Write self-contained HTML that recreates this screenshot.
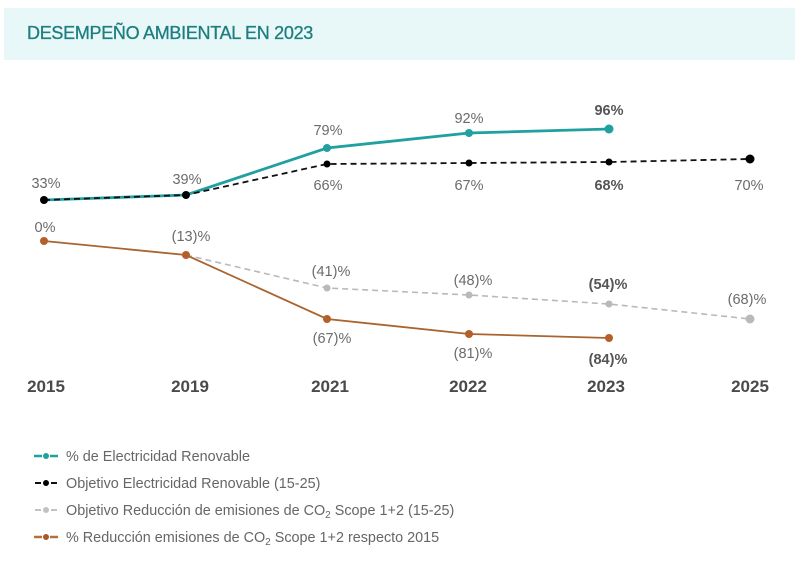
<!DOCTYPE html>
<html><head><meta charset="utf-8">
<style>
html,body{margin:0;padding:0;background:#fff;}
body{width:800px;height:559px;overflow:hidden;font-family:"Liberation Sans",sans-serif;}
</style></head>
<body>
<svg width="800" height="559" viewBox="0 0 800 559" xmlns="http://www.w3.org/2000/svg" font-family="Liberation Sans, sans-serif">
<rect x="4" y="8" width="791" height="52" fill="#e8f7f8"/>
<text x="27" y="39" font-size="18" fill="#1d7e7f" letter-spacing="-0.3" stroke="#1d7e7f" stroke-width="0.3">DESEMPEÑO AMBIENTAL EN 2023</text>

<!-- gray dashed -->
<polyline points="186,255 327,288 469,295 609,304 750,319" fill="none" stroke="#b9b9b9" stroke-width="1.6" stroke-dasharray="6,4"/>
<g fill="#b9b9b9"><circle cx="327" cy="288" r="3.5"/><circle cx="469" cy="295" r="3.5"/><circle cx="609" cy="304" r="3.5"/><circle cx="750" cy="319" r="4.5"/></g>

<!-- orange -->
<polyline points="44,241 186,255 327,319 469,334 609,338" fill="none" stroke="#a9642f" stroke-width="1.8"/>
<g fill="#b5602a"><circle cx="44" cy="241" r="4"/><circle cx="186" cy="255" r="4"/><circle cx="327" cy="319" r="4"/><circle cx="469" cy="334" r="4"/><circle cx="609" cy="338" r="4"/></g>

<!-- teal -->
<polyline points="44,200 186,195 327,148 469,133 609,129" fill="none" stroke="#20a0a0" stroke-width="2.8"/>
<g fill="#20a0a0"><circle cx="327" cy="148" r="4"/><circle cx="469" cy="133" r="4"/><circle cx="609" cy="129" r="4.5"/></g>

<!-- black dashed -->
<polyline points="44,200 186,195 327,164 469,163 609,162 750,159" fill="none" stroke="#111" stroke-width="1.8" stroke-dasharray="6,4"/>
<g fill="#000"><circle cx="44" cy="200" r="4"/><circle cx="186" cy="195" r="4"/><circle cx="327" cy="164" r="3.5"/><circle cx="469" cy="163" r="3.5"/><circle cx="609" cy="162" r="3.5"/><circle cx="750" cy="159" r="4.5"/></g>

<g font-size="14.5" fill="#6b6b6b" text-anchor="middle">
<text x="46" y="188">33%</text>
<text x="187" y="184">39%</text>
<text x="328" y="135">79%</text>
<text x="469" y="123">92%</text>
<text x="609" y="115" font-weight="bold" fill="#555">96%</text>
<text x="328" y="190">66%</text>
<text x="469" y="190">67%</text>
<text x="609" y="190" font-weight="bold" fill="#555">68%</text>
<text x="749" y="190">70%</text>
<text x="45" y="232">0%</text>
<text x="191" y="241">(13)%</text>
<text x="331" y="276">(41)%</text>
<text x="473" y="285">(48)%</text>
<text x="608" y="289" font-weight="bold" fill="#555">(54)%</text>
<text x="747" y="304">(68)%</text>
<text x="332" y="343">(67)%</text>
<text x="473" y="358">(81)%</text>
<text x="608" y="364" font-weight="bold" fill="#555">(84)%</text>
</g>

<g font-size="17" font-weight="bold" fill="#4a4a4a" text-anchor="middle">
<text x="46" y="392">2015</text>
<text x="190" y="392">2019</text>
<text x="330" y="392">2021</text>
<text x="468" y="392">2022</text>
<text x="606" y="392">2023</text>
<text x="750" y="392">2025</text>
</g>

<!-- legend -->
<g stroke-width="2.5">
<line x1="34" y1="456" x2="42" y2="456" stroke="#20a0a0"/><line x1="50" y1="456" x2="58" y2="456" stroke="#20a0a0"/>
<circle cx="46" cy="456" r="3" fill="#20a0a0" stroke="none"/>
<line x1="35" y1="483" x2="41" y2="483" stroke="#111" stroke-width="2"/><line x1="51" y1="483" x2="57" y2="483" stroke="#111" stroke-width="2"/>
<circle cx="46" cy="483" r="3" fill="#000" stroke="none"/>
<line x1="35" y1="510" x2="41" y2="510" stroke="#c2c2c2" stroke-width="2"/><line x1="51" y1="510" x2="57" y2="510" stroke="#c2c2c2" stroke-width="2"/>
<circle cx="46" cy="510" r="3" fill="#c2c2c2" stroke="none"/>
<line x1="34" y1="537" x2="42" y2="537" stroke="#b5713a"/><line x1="50" y1="537" x2="58" y2="537" stroke="#b5713a"/>
<circle cx="46" cy="537" r="3" fill="#a9582a" stroke="none"/>
</g>
<g font-size="14.4" fill="#666">
<text x="66" y="461">% de Electricidad Renovable</text>
<text x="66" y="488">Objetivo Electricidad Renovable (15-25)</text>
<text x="66" y="515">Objetivo Reducción de emisiones de CO<tspan font-size="10" dy="3">2</tspan><tspan dy="-3"> Scope 1+2 (15-25)</tspan></text>
<text x="66" y="542">% Reducción emisiones de CO<tspan font-size="10" dy="3">2</tspan><tspan dy="-3"> Scope 1+2 respecto 2015</tspan></text>
</g>
</svg>
</body></html>
